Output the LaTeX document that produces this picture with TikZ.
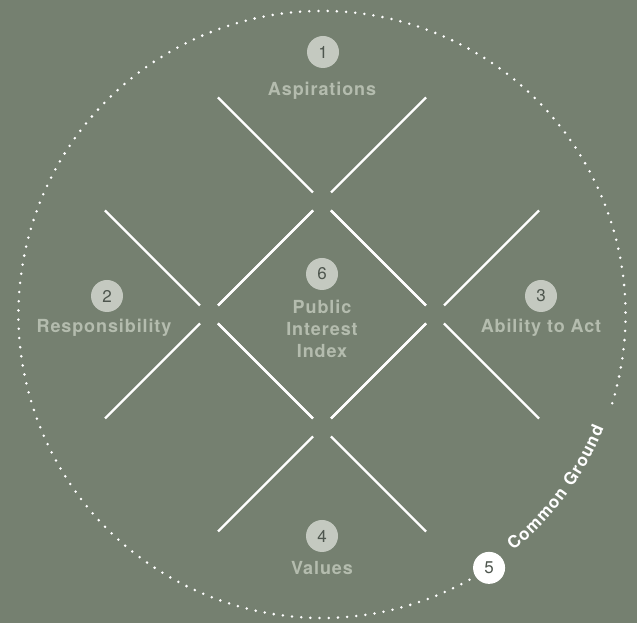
\documentclass[tikz,border=0pt]{standalone}
\usepackage{fontspec}
\setmainfont{TeX Gyre Heros}
\newfontfamily\labelfont[LetterSpace=5]{TeX Gyre Heros}
\usetikzlibrary{calc}
\usetikzlibrary{decorations.text}

\definecolor{bgOlive}{RGB}{117,128,112}
\definecolor{labelGrey}{RGB}{180,188,174}
\definecolor{badgeGrey}{RGB}{196,201,192}
\definecolor{numGrey}{RGB}{78,86,78}

\tikzset{
    badge/.style={circle, fill=badgeGrey, text=numGrey, minimum size=32pt, inner sep=0pt, font=\fontsize{17}{17}\selectfont},
    badgeWhite/.style={badge, fill=white},
    areaLabel/.style={text=labelGrey, inner sep=0pt, align=center, anchor=base, font=\labelfont\bfseries\fontsize{18}{22}\selectfont},
    crossLine/.style={draw=white, line width=2.4pt},
    dotCircle/.style={draw=white, line width=2.8pt, line cap=round, dash pattern=on 0pt off 9.2pt},
}

\begin{document}
\begin{tikzpicture}[x=1pt, y=1pt]

    \useasboundingbox (0,0) rectangle (637,623);
    \fill[bgOlive] (0,0) rectangle (637,623);

    % diamond corners
    \coordinate (ndCentre) at (322,308.5);
    \coordinate (ndTop) at (322,421.5);
    \coordinate (ndBottom) at (322,195.5);
    \coordinate (ndLeft) at (209,308.5);
    \coordinate (ndRight) at (435,308.5);

    \foreach \v in {ndTop,ndLeft,ndRight,ndBottom}
        \foreach \dx/\dy in {1/1,1/-1,-1/1,-1/-1}
            \draw[crossLine] ($(\v)+(9*\dx,9*\dy)$) -- ($(\v)+(104*\dx,104*\dy)$);

    % outer ring, open where the text runs
    \draw[dotCircle] ($(ndCentre)+(-17:303.5)$) arc[start angle=-17, end angle=307, radius=303.5];
    \path[decorate, decoration={text along path, text align={fit to path}, text color=white,
        text={|\bfseries\fontsize{17}{17}\selectfont|Common Ground}}]
        ($(ndCentre)+(-51:304)$) arc[start angle=-51, end angle=-22, radius=304];

    \node[badge] (ndBadge1) at (323,571) {1};
    \node[areaLabel] (ndAspirations) at (322,527.3) {Aspirations};

    \node[badge] (ndBadge2) at (107,327) {2};
    \node[areaLabel] (ndResponsibility) at (104,290.5) {Responsibility};

    \node[badge] (ndBadge3) at (541,327) {3};
    \node[areaLabel] (ndAbility) at (541,290.5) {Ability to Act};

    \node[badge] (ndBadge4) at (322,87) {4};
    \node[areaLabel] (ndValues) at (322,48.5) {Values};

    \node[badge] (ndBadge6) at (322,349) {6};
    \node[areaLabel] (ndIndex) at (322,265.5) {Public\\Interest\\Index};

    \node[badgeWhite] (ndBadge5) at ($(ndCentre)+(-56.6:303.5)$) {5};

\end{tikzpicture}
\end{document}
